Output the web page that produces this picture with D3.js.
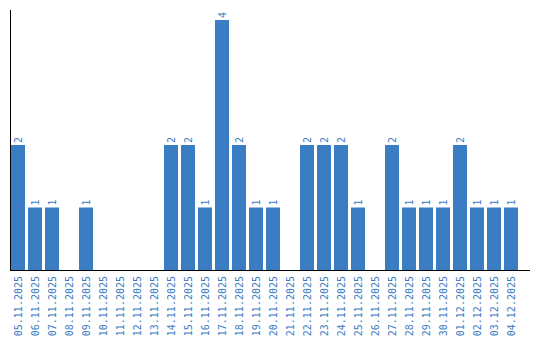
<!DOCTYPE html>
<html>
<head>
<meta charset="utf-8">
<script src="https://cdn.jsdelivr.net/npm/d3@7"></script>
<style>
  body { margin: 0; background: #fff; }
  svg { display: block; }
</style>
</head>
<body>
<div id="chart"></div>
<script>
const dates = [
  '05.11.2025', '06.11.2025', '07.11.2025', '08.11.2025', '09.11.2025',
  '10.11.2025', '11.11.2025', '12.11.2025', '13.11.2025', '14.11.2025',
  '15.11.2025', '16.11.2025', '17.11.2025', '18.11.2025', '19.11.2025',
  '20.11.2025', '21.11.2025', '22.11.2025', '23.11.2025', '24.11.2025',
  '25.11.2025', '26.11.2025', '27.11.2025', '28.11.2025', '29.11.2025',
  '30.11.2025', '01.12.2025', '02.12.2025', '03.12.2025', '04.12.2025'
];
const counts = [
  2, 1, 1, 0, 1,
  0, 0, 0, 0, 2,
  2, 1, 4, 2, 1,
  1, 0, 2, 2, 2,
  1, 0, 2, 1, 1,
  1, 2, 1, 1, 1
];

const width = 540, height = 340;
const blue = '#3b7dc3';
const font = '"DejaVu Sans Mono", monospace';

const svg = d3.select('#chart').append('svg')
  .attr('width', width)
  .attr('height', height);

// band scale: 14px bars on a 17px step
const x = d3.scaleBand()
  .domain(dates)
  .range([11, 518])
  .paddingInner(3 / 17)
  .paddingOuter(0);

const y = d3.scaleLinear()
  .domain([0, 4.16])
  .range([270, 10]);

// bars (only for non-zero days)
svg.append('g')
  .selectAll('rect')
  .data(dates.map((d, i) => ({ date: d, value: counts[i] })).filter(d => d.value > 0))
  .join('rect')
  .attr('x', d => x(d.date))
  .attr('y', d => y(d.value))
  .attr('width', x.bandwidth())
  .attr('height', d => y(0) - y(d.value))
  .attr('fill', blue);

// value labels, rotated above bars
svg.append('g')
  .selectAll('text')
  .data(dates.map((d, i) => ({ date: d, value: counts[i] })).filter(d => d.value > 0))
  .join('text')
  .attr('transform', d => `translate(${x(d.date) + x.bandwidth() / 2 + 3.5},${y(d.value) - 2}) rotate(-90)`)
  .attr('text-anchor', 'start')
  .attr('font-family', font)
  .attr('font-size', 10)
  .attr('fill', blue)
  .text(d => d.value);

// x axis with rotated date labels
const xAxis = d3.axisBottom(x).tickSize(0).tickPadding(0);
const gx = svg.append('g')
  .attr('transform', `translate(0,${y(0)})`)
  .call(xAxis);
gx.select('.domain').remove();
gx.selectAll('text')
  .attr('font-family', font)
  .attr('font-size', 10)
  .attr('fill', blue)
  .attr('text-anchor', 'end')
  .attr('dy', null)
  .attr('y', 0)
  .attr('transform', 'translate(3.5,6) rotate(-90)');

// axis lines
svg.append('line')
  .attr('x1', 10.5).attr('x2', 10.5)
  .attr('y1', y.range()[1]).attr('y2', y(0))
  .attr('stroke', '#000');
svg.append('line')
  .attr('x1', 10).attr('x2', 530)
  .attr('y1', y(0) + 0.5).attr('y2', y(0) + 0.5)
  .attr('stroke', '#000');
</script>
</body>
</html>
